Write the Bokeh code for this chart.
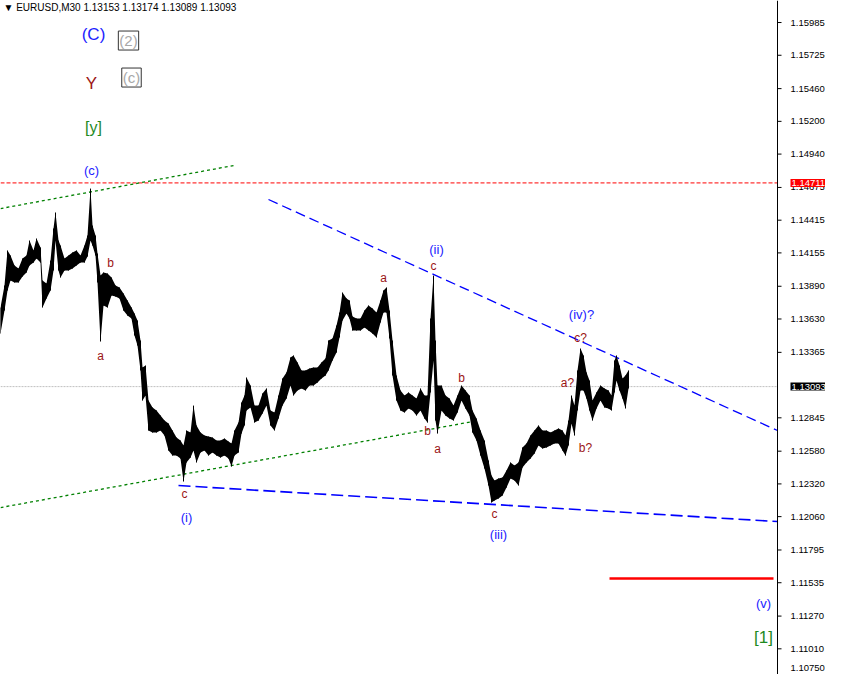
from bokeh.plotting import figure
from bokeh.models import Range1d, Label, ColumnDataSource, Span
from bokeh.core.properties import value
from bokeh.embed import file_html
from bokeh.resources import INLINE

# ---------------- data ----------------
bar_x = [0, 4, 7, 10, 14, 18, 22, 26, 29, 33, 36, 40, 42, 46, 50, 53, 55, 58, 60, 64,
         68, 72, 76, 80, 84, 87, 90, 92, 95, 97, 100, 103, 107, 111, 115, 119, 123, 127, 131, 134,
         137, 140, 142, 145, 148, 152, 156, 160, 164, 168, 172, 176, 180, 183, 186, 190, 193, 196, 200, 204,
         208, 212, 216, 220, 224, 228, 231, 234, 238, 241, 244, 246, 250, 254, 258, 262, 266, 270, 274, 278,
         282, 286, 290, 293, 297, 301, 305, 309, 313, 317, 321, 325, 328, 332, 336, 339, 342, 346, 349, 352,
         356, 360, 364, 368, 372, 376, 380, 383, 386, 389, 392, 396, 400, 404, 408, 412, 416, 420, 424, 427,
         430, 433, 435, 437, 441, 445, 449, 453, 457, 461, 465, 469, 472, 476, 480, 484, 488, 491, 494, 498,
         502, 506, 510, 514, 518, 522, 526, 530, 534, 538, 542, 546, 550, 554, 558, 562, 565, 568, 571, 574,
         577, 580, 583, 586, 589, 592, 596, 600, 604, 608, 611, 614, 616, 619, 622, 625, 628]
bar_high = [1.13721, 1.13896, 1.14174, 1.14134, 1.14055, 1.14031, 1.14110, 1.14134, 1.14253, 1.14174,
            1.14269, 1.14198, 1.13935, 1.13912, 1.14094, 1.14349, 1.14476, 1.14253, 1.14213, 1.14110,
            1.14134, 1.14158, 1.14174, 1.14134, 1.14213, 1.14293, 1.14666, 1.14372, 1.14293, 1.14150,
            1.13975, 1.13999, 1.13991, 1.13959, 1.13896, 1.13880, 1.13832, 1.13777, 1.13721, 1.13673,
            1.13618, 1.13459, 1.13244, 1.13260, 1.12982, 1.12927, 1.12903, 1.12863, 1.12823, 1.12799,
            1.12744, 1.12688, 1.12664, 1.12625, 1.12744, 1.12728, 1.12942, 1.12784, 1.12728, 1.12704,
            1.12696, 1.12688, 1.12664, 1.12664, 1.12680, 1.12656, 1.12641, 1.12744, 1.12807, 1.12966,
            1.13022, 1.13165, 1.13101, 1.12942, 1.12942, 1.13038, 1.13078, 1.12903, 1.12887, 1.13022,
            1.13157, 1.13205, 1.13324, 1.13340, 1.13284, 1.13221, 1.13221, 1.13236, 1.13244, 1.13244,
            1.13284, 1.13316, 1.13459, 1.13475, 1.13578, 1.13681, 1.13840, 1.13793, 1.13777, 1.13650,
            1.13634, 1.13634, 1.13697, 1.13737, 1.13713, 1.13681, 1.13777, 1.13856, 1.13880, 1.13697,
            1.13459, 1.13181, 1.13062, 1.13022, 1.13046, 1.13022, 1.12998, 1.13078, 1.13022, 1.13022,
            1.13634, 1.13975, 1.13459, 1.13101, 1.13101, 1.13022, 1.12998, 1.12942, 1.13022, 1.13101,
            1.13062, 1.13022, 1.12903, 1.12839, 1.12744, 1.12664, 1.12506, 1.12386, 1.12347, 1.12363,
            1.12371, 1.12426, 1.12490, 1.12466, 1.12490, 1.12609, 1.12641, 1.12704, 1.12744, 1.12784,
            1.12744, 1.12744, 1.12728, 1.12744, 1.12760, 1.12744, 1.12704, 1.12823, 1.13022, 1.12942,
            1.13221, 1.13395, 1.13340, 1.13205, 1.13141, 1.12982, 1.13046, 1.13101, 1.13078, 1.13062,
            1.13022, 1.13300, 1.13340, 1.13260, 1.13157, 1.13181, 1.13221]
bar_low = [1.13514, 1.13697, 1.13856, 1.13935, 1.13920, 1.13920, 1.13967, 1.13999, 1.14055, 1.14078,
           1.14110, 1.14078, 1.13721, 1.13793, 1.13856, 1.14015, 1.14253, 1.14015, 1.13959, 1.14015,
           1.14015, 1.14031, 1.14055, 1.14078, 1.14078, 1.14126, 1.14253, 1.14213, 1.14134, 1.13920,
           1.13451, 1.13737, 1.13721, 1.13816, 1.13808, 1.13793, 1.13697, 1.13657, 1.13634, 1.13499,
           1.13419, 1.13221, 1.12982, 1.13022, 1.12744, 1.12728, 1.12728, 1.12744, 1.12704, 1.12585,
           1.12545, 1.12545, 1.12521, 1.12339, 1.12490, 1.12529, 1.12585, 1.12490, 1.12569, 1.12585,
           1.12545, 1.12569, 1.12545, 1.12529, 1.12545, 1.12521, 1.12458, 1.12545, 1.12569, 1.12720,
           1.12784, 1.12903, 1.12927, 1.12807, 1.12823, 1.12879, 1.12942, 1.12784, 1.12744, 1.12839,
           1.12942, 1.12998, 1.13101, 1.13022, 1.13062, 1.13078, 1.13062, 1.13101, 1.13101, 1.13125,
           1.13157, 1.13181, 1.13221, 1.13300, 1.13363, 1.13483, 1.13618, 1.13673, 1.13634, 1.13538,
           1.13538, 1.13538, 1.13562, 1.13538, 1.13514, 1.13483, 1.13602, 1.13681, 1.13681, 1.13475,
           1.13181, 1.12982, 1.12903, 1.12887, 1.12919, 1.12903, 1.12863, 1.12903, 1.12839, 1.12807,
           1.13046, 1.13300, 1.12823, 1.12720, 1.12903, 1.12863, 1.12839, 1.12823, 1.12887, 1.12982,
           1.12919, 1.12863, 1.12728, 1.12664, 1.12545, 1.12442, 1.12307, 1.12172, 1.12188, 1.12204,
           1.12228, 1.12291, 1.12363, 1.12347, 1.12307, 1.12450, 1.12490, 1.12521, 1.12561, 1.12625,
           1.12601, 1.12609, 1.12625, 1.12641, 1.12641, 1.12585, 1.12545, 1.12625, 1.12799, 1.12704,
           1.12903, 1.13062, 1.13062, 1.12998, 1.12903, 1.12823, 1.12919, 1.12982, 1.12927, 1.12919,
           1.12903, 1.13046, 1.13141, 1.13062, 1.12998, 1.12919, 1.13078]

header_text = "\u25bc EURUSD,M30  1.13153 1.13174 1.13089 1.13093"
last_price = 1.13093
stop_level = 1.14711

price_ticks = [1.10750, 1.11010, 1.11270, 1.11535, 1.11795, 1.12060, 1.12320, 1.12580,
               1.12845, 1.13365, 1.13630, 1.13890, 1.14155, 1.14415, 1.14675, 1.14940,
               1.15200, 1.15460, 1.15725, 1.15985]
price_tick_labels = ["1.10750", "1.11010", "1.11270", "1.11535", "1.11795", "1.12060", "1.12320",
                     "1.12580", "1.12845", "1.13365", "1.13630", "1.13890", "1.14155", "1.14415",
                     "1.14675", "1.14940", "1.15200", "1.15460", "1.15725", "1.15985"]

# trend lines
green_upper_x = [0, 233]
green_upper_y = [1.14507, 1.14849]
green_lower_x = [0, 472]
green_lower_y = [1.12132, 1.12815]
blue_upper_x = [268, 777]
blue_upper_y = [1.14579, 1.12744]
blue_lower_x = [178, 777]
blue_lower_y = [1.12307, 1.12021]
target_x = [609, 773]
target_y = [1.11568, 1.11568]

# wave labels
wave_text = ["(C)", "Y", "[y]", "(c)", "b", "a", "c", "(i)", "a", "(ii)", "c", "b",
             "b", "a", "c", "(iii)", "(iv)?", "c?", "a?", "b?", "(v)", "[1]"]
wave_x = [93, 91, 93, 91, 110, 100, 184, 186, 383, 436, 433, 461,
          427, 437, 494, 498, 581, 580, 567, 585, 763, 763]
wave_y = [1.15890, 1.15500, 1.15151, 1.14809, 1.14078, 1.13340, 1.12243, 1.12053, 1.13959, 1.14182,
          1.14047, 1.13165, 1.12744, 1.12601, 1.12077, 1.11918, 1.13665, 1.13483, 1.13125, 1.12609,
          1.11370, 1.11100]
wave_kind = ["blue", "red", "green", "blue", "red", "red", "red", "blue", "red", "blue", "red", "red",
             "red", "red", "red", "blue", "blue", "red", "red", "red", "blue", "green"]
wave_size = ["17px", "17px", "16px", "13px", "12px", "12px", "12px", "13px", "12px", "13px", "12px", "12px",
             "12px", "12px", "12px", "13px", "13px", "12px", "12px", "12px", "13px", "17px"]

box_text = ["(2)", "(c)"]
box_x = [128, 131]
box_y = [1.15842, 1.15548]

# ---------------- figure ----------------
kind_color = {"blue": "#2222ff", "red": "#9b1515", "green": "#1f8a1f"}
AXIS_X = 777          # price-scale position (horizontal pixel scale of the chart)
FONT = "Liberation Sans"

p = figure(frame_width=825, frame_height=674, output_backend="svg", toolbar_location=None,
           x_range=Range1d(0, 825), y_range=Range1d(1.10806, 1.16160),
           x_axis_location=None, y_axis_location=None,
           min_border_left=0, min_border_top=0, min_border_bottom=0, min_border_right=0)
p.grid.visible = False
p.outline_line_color = None
p.background_fill_color = "white"
p.border_fill_color = "white"

# horizontal level lines (chart area only)
p.line([0, AXIS_X], [stop_level, stop_level], line_color="#ff0000", line_dash="4 2", line_width=1)
p.line([0, AXIS_X], [last_price, last_price], line_color="#c0c0c0", line_dash="2 1", line_width=1)

# trend lines
p.line(green_upper_x, green_upper_y, line_color="#008000", line_dash="3 3", line_width=1.3)
p.line(green_lower_x, green_lower_y, line_color="#008000", line_dash="3 3", line_width=1.3)
p.line(blue_upper_x, blue_upper_y, line_color="#0000ff", line_dash="10 5", line_width=1.3)
p.line(blue_lower_x, blue_lower_y, line_color="#0000ff", line_dash="12 5", line_width=1.6)
p.line(target_x, target_y, line_color="#ff0000", line_width=2.5)

# price bars
src = ColumnDataSource(dict(x=bar_x, high=bar_high, low=bar_low))
p.varea(x="x", y1="low", y2="high", source=src, fill_color="black")
p.segment(x0="x", y0="low", x1="x", y1="high", source=src, line_color="black", line_width=1)

# price scale on the right
p.add_layout(Span(location=AXIS_X, dimension="height", line_color="black", line_width=1))
tsrc = ColumnDataSource(dict(y=price_ticks, text=price_tick_labels,
                             off=[-14 if t == min(price_ticks) else 0 for t in price_ticks]))
p.segment(x0=AXIS_X, y0="y", x1=AXIS_X + 4, y1="y", source=tsrc, line_color="black", line_width=1)
p.text(x=AXIS_X + 13, y="y", text="text", source=tsrc, y_offset="off", text_color="black",
       text_font=value(FONT), text_font_size="9.5px", text_align="left", text_baseline="middle")

# wave labels
wsrc = ColumnDataSource(dict(x=wave_x, y=wave_y, text=wave_text,
                             color=[kind_color[k] for k in wave_kind], size=wave_size))
p.text(x="x", y="y", text="text", source=wsrc, text_color="color", text_font_size="size",
       text_font=value(FONT), text_align="center", text_baseline="middle")

for t, bx, by in zip(box_text, box_x, box_y):
    p.add_layout(Label(x=bx, y=by, text=t, text_color="#a8a8a8", text_font=FONT,
                       text_font_size="15px", text_align="center", text_baseline="middle",
                       border_line_color="#333333", border_line_width=1, padding=1))

# header
p.add_layout(Label(x=3, y=1.16104, text=header_text, text_color="black",
                   text_font=FONT, text_font_size="10px",
                   text_align="left", text_baseline="middle"))

# price boxes on the scale
for lvl, bg in [(stop_level, "#ff0000"), (last_price, "black")]:
    p.add_layout(Label(x=AXIS_X + 13, y=lvl, text=f"{lvl:.5f}", text_color="white",
                       text_font=FONT, text_font_size="9.5px",
                       text_align="left", text_baseline="middle",
                       background_fill_color=bg, padding=1))

open("out.html", "w").write(file_html(p, INLINE))
